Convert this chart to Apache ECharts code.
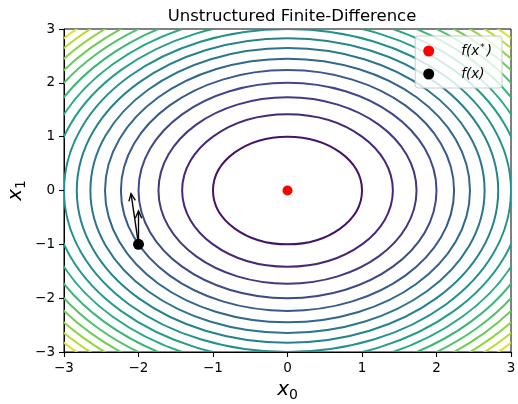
<!DOCTYPE html>
<html>
<head>
<meta charset="utf-8">
<script src="https://cdn.jsdelivr.net/npm/echarts@6/dist/echarts.min.js"></script>
<style>
  html, body { margin: 0; padding: 0; background: #fff; }
  #chart { width: 518px; height: 404px; }
</style>
</head>
<body>
<div id="chart"></div>
<script>
// contour levels of f(x) = x0^2 + x1^2 (levels 0..18, only 1..17 visible)
var levels = [1, 2, 3, 4, 5, 6, 7, 8, 9, 10, 11, 12, 13, 14, 15, 16, 17];
var levelMin = 0, levelMax = 18;
var optimum = [[0, 0]];
var current = [[-2, -1]];
// finite-difference step arrows
var arrowStart = [[-2, -1], [-2, -1]];
var arrowEnd = [[-2.1, -0.06], [-2.0, -0.38]];

var FONT = 'DejaVu Sans';

// viridis anchors
var viridis = ['#440154', '#482475', '#414487', '#355f8d', '#2a788e', '#21918c',
               '#22a884', '#44bf70', '#7ad151', '#bddf26', '#fde725'];
function hexRgb(h) { return [parseInt(h.substr(1, 2), 16), parseInt(h.substr(3, 2), 16), parseInt(h.substr(5, 2), 16)]; }
function viridisColor(t) {
  t = Math.max(0, Math.min(1, t));
  var p = t * (viridis.length - 1), i = Math.min(Math.floor(p), viridis.length - 2), f = p - i;
  var a = hexRgb(viridis[i]), b = hexRgb(viridis[i + 1]);
  return 'rgb(' + [0, 1, 2].map(function (k) { return Math.round(a[k] + (b[k] - a[k]) * f); }).join(',') + ')';
}

var contourData = levels.map(function (l) { return [0, 0, l]; });
var arrowData = arrowStart.map(function (s, i) { return [s[0], s[1], arrowEnd[i][0], arrowEnd[i][1]]; });

function minusFmt(v) { return String(v).replace('-', '\u2212'); }

var chart = echarts.init(document.getElementById('chart'), null, { renderer: 'canvas' });
var option = {
  animation: false,
  backgroundColor: '#fff',
  title: {
    text: 'Unstructured Finite-Difference',
    left: 287, top: 3, textAlign: 'center',
    textStyle: { fontFamily: FONT, fontSize: 16.5, fontWeight: 'normal', color: '#000' }
  },
  grid: {
    left: 64, right: 7, top: 29, bottom: 52, containLabel: false, outerBoundsMode: 'none',
    show: true, borderColor: '#000', borderWidth: 1, backgroundColor: 'transparent'
  },
  legend: {
    right: 16, top: 36,
    orient: 'vertical',
    data: ['f(x*)', 'f(x)'],
    icon: 'circle',
    itemWidth: 11, itemHeight: 11, itemGap: 9,
    backgroundColor: 'rgba(255,255,255,0.8)',
    borderColor: '#ccc', borderWidth: 1, borderRadius: 3,
    padding: [7, 10, 7, 8],
    formatter: function (name) {
      if (name === 'f(x*)') return '{g|}{i|f(x}{s|*}{i|)}';
      return '{g|}{i|f(x)}';
    },
    textStyle: {
      color: '#000', fontFamily: FONT,
      rich: {
        g: { width: 22 },
        i: { fontFamily: FONT, fontStyle: 'italic', fontSize: 13.5, color: '#000', lineHeight: 16 },
        s: { fontFamily: FONT, fontSize: 9, color: '#000', verticalAlign: 'top', lineHeight: 16, padding: [0, 2, 6, 1] }
      }
    }
  },
  xAxis: {
    type: 'value', min: -3, max: 3, interval: 1,
    name: '{x|x}{s|0}', nameLocation: 'middle', nameGap: 26, nameMoveOverlap: false,
    nameTextStyle: {
      rich: {
        x: { fontFamily: FONT, fontSize: 20, color: '#000', fontStyle: 'italic' },
        s: { fontFamily: FONT, fontSize: 14, color: '#000', padding: [10, 0, 0, 0] }
      }
    },
    axisLine: { onZero: false, lineStyle: { color: '#000', width: 1 } },
    axisTick: { show: true, length: 5, lineStyle: { color: '#000', width: 1.1 } },
    axisLabel: { color: '#000', fontFamily: FONT, fontSize: 13.5, margin: 9, formatter: minusFmt },
    splitLine: { show: false }
  },
  yAxis: {
    type: 'value', min: -3, max: 3, interval: 1,
    name: '{x|x}{s|1}', nameLocation: 'middle', nameGap: 36, nameRotate: 90, nameMoveOverlap: false,
    nameTextStyle: {
      rich: {
        x: { fontFamily: FONT, fontSize: 20, color: '#000', fontStyle: 'italic' },
        s: { fontFamily: FONT, fontSize: 14, color: '#000', padding: [10, 0, 0, 0] }
      }
    },
    axisLine: { onZero: false, lineStyle: { color: '#000', width: 1 } },
    axisTick: { show: true, length: 5, lineStyle: { color: '#000', width: 1.1 } },
    axisLabel: { color: '#000', fontFamily: FONT, fontSize: 13.5, margin: 9, formatter: minusFmt },
    splitLine: { show: false }
  },
  series: [
    {
      name: 'contours', type: 'custom', clip: true, silent: true, z: 1,
      data: contourData,
      encode: { x: 0, y: 1 },
      renderItem: function (params, api) {
        var lvl = api.value(2);
        var r = Math.sqrt(lvl);
        var c = api.coord([0, 0]);
        var sz = api.size([r, r]);
        return {
          type: 'ellipse',
          shape: { cx: c[0], cy: c[1], rx: sz[0], ry: sz[1] },
          style: { fill: 'none', stroke: viridisColor((lvl - levelMin) / (levelMax - levelMin)), lineWidth: 2 }
        };
      }
    },
    {
      name: 'arrows', type: 'custom', silent: true, z: 3,
      data: arrowData,
      encode: { x: [0, 2], y: [1, 3] },
      renderItem: function (params, api) {
        var p0 = api.coord([api.value(0), api.value(1)]);
        var p1 = api.coord([api.value(2), api.value(3)]);
        var ang = Math.atan2(p1[1] - p0[1], p1[0] - p0[0]);
        var L = 8, a = 0.42;
        var h1 = [p1[0] - L * Math.cos(ang - a), p1[1] - L * Math.sin(ang - a)];
        var h2 = [p1[0] - L * Math.cos(ang + a), p1[1] - L * Math.sin(ang + a)];
        return {
          type: 'group',
          children: [
            { type: 'line', shape: { x1: p0[0], y1: p0[1], x2: p1[0], y2: p1[1] }, style: { stroke: '#000', lineWidth: 1.4 } },
            { type: 'polyline', shape: { points: [h1, p1, h2] }, style: { stroke: '#000', fill: 'none', lineWidth: 1.4 } }
          ]
        };
      }
    },
    {
      name: 'f(x*)', type: 'scatter', data: optimum, symbol: 'circle', symbolSize: 10, z: 4,
      itemStyle: { color: '#ff0000', opacity: 1 }
    },
    {
      name: 'f(x)', type: 'scatter', data: current, symbol: 'circle', symbolSize: 11, z: 4,
      itemStyle: { color: '#000000', opacity: 1 }
    }
  ]
};
chart.setOption(option);
</script>
</body>
</html>
